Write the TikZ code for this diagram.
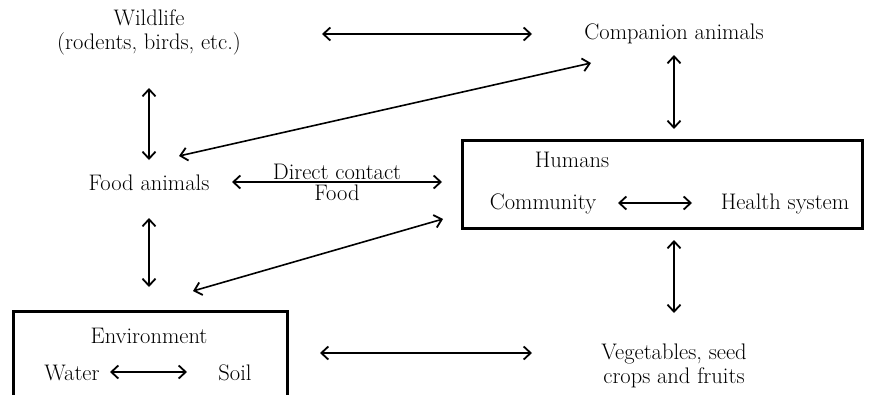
\documentclass[tikz,border=0pt]{standalone}
\usepackage{fontspec}
\usetikzlibrary{arrows.meta}
\begin{document}
\begin{tikzpicture}[x=1pt,y=-1pt,
  txt/.style={font=\fontsize{22.5}{24}\selectfont},
  lbl/.style={txt, inner sep=1pt, align=center},
  edge lbl/.style={txt, inner sep=0pt, midway},
  dbl/.style={line width=1.6pt, {Straight Barb[length=7pt,width=13pt,line width=1.8pt]}-{Straight Barb[length=7pt,width=13pt,line width=1.8pt]}},
  boxl/.style={line width=3pt}]
\useasboundingbox (0,0) rectangle (876,394);
% nodes
\node[lbl] (wild) at (149,32) {Wildlife\\(rodents, birds, etc.)};
\node[lbl] (comp) at (674,34) {Companion animals};
\node[lbl] (food) at (149,183) {Food animals};
\node[lbl] (veg) at (674,366) {Vegetables, seed\\crops and fruits};
% Humans box
\draw[boxl] (462,140) rectangle (862,228);
\node[lbl] (hum) at (572,160) {Humans};
\node[lbl] (commu) at (543,204) {Community};
\node[lbl] (hs) at (785,204) {Health system};
% Environment box
\draw[boxl] (13,396) -- (13,311) -- (287,311) -- (287,396);
\node[lbl] (env) at (149,336) {Environment};
\node[lbl] (water) at (72,373) {Water};
\node[lbl] (soil) at (235,373) {Soil};
% coordinates for arrow ends
\coordinate (a1) at (322,34); \coordinate (a2) at (532,34);
\coordinate (b1) at (149,88); \coordinate (b2) at (149,160);
\coordinate (c1) at (674,55); \coordinate (c2) at (674,129);
\coordinate (d1) at (591,63); \coordinate (d2) at (179,156);
\coordinate (e1) at (232,182); \coordinate (e2) at (442,182);
\coordinate (f1) at (149,218); \coordinate (f2) at (149,287);
\coordinate (g1) at (443,219); \coordinate (g2) at (193,291);
\coordinate (h1) at (674,240); \coordinate (h2) at (674,313);
\coordinate (i1) at (320,353); \coordinate (i2) at (532,353);
\coordinate (j1) at (618,203); \coordinate (j2) at (692,203);
\coordinate (k1) at (110,372); \coordinate (k2) at (187,372);
% arrows
\draw[dbl] (a1) -- (a2);
\draw[dbl] (b1) -- (b2);
\draw[dbl] (c1) -- (c2);
\draw[dbl] (d1) -- (d2);
\draw[dbl] (e1) -- node[edge lbl, above=2pt] (dc) {Direct contact} node[edge lbl, below=2pt] (fd) {Food} (e2);
\draw[dbl] (f1) -- (f2);
\draw[dbl] (g1) -- (g2);
\draw[dbl] (h1) -- (h2);
\draw[dbl] (i1) -- (i2);
\draw[dbl] (j1) -- (j2);
\draw[dbl] (k1) -- (k2);
\end{tikzpicture}
\end{document}
